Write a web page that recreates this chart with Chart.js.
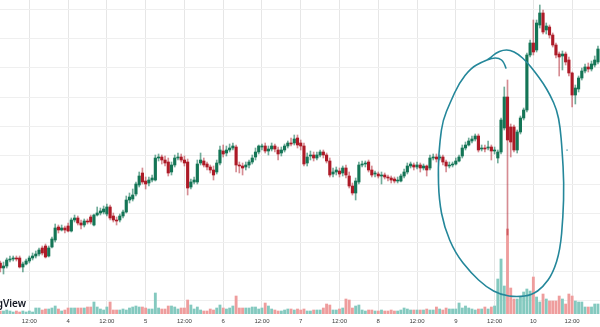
<!DOCTYPE html>
<html>
<head>
<meta charset="utf-8">
<script src="https://cdn.jsdelivr.net/npm/chart.js@4.4.1/dist/chart.umd.min.js"></script>
<style>
  html, body { margin: 0; padding: 0; background: #fff; }
  #wrap { width: 600px; height: 327px; }
</style>
</head>
<body>
<div id="wrap"><canvas id="candles" width="600" height="327"></canvas></div>
<script>
// hourly candles, first one opens day 3 at 03:00
const firstHour = 3

const openPrice = [
  327,322,324,330,331,332,332,323,326,329, 332,334,336,342,344,334,343,350,363,360,
  362,364,359,370,372,367,365,369,373,365, 375,377,378,376,383,374,370,370,374,378,
  390,391,396,405,417,409,407,410,410,432, 433,430,428,418,425,432,433,430,428,403,
  408,408,427,429,426,423,420,418,427,439, 437,440,442,443,425,424,423,425,428,433,
  438,443,444,439,441,444,440,437,440,444, 447,447,452,447,444,427,434,435,432,435,
  438,435,429,416,418,419,417,422,414,404, 397,408,425,426,428,420,416,416,414,415,
  413,412,411,409,409,414,418,424,425,423, 425,422,424,422,432,433,432,433,428,424,
  425,426,429,434,442,445,449,451,454,441, 442,442,443,439,432,438,462,493,463,463,
  440,458,472,480,535,547,540,565,577,560, 563,555,545,536,534,536,530,517,495,501,
  512,519,523,521,525,528
]
const highPrice = [
  329,328,332,334,334,334,334,328,331,334, 337,339,342,344,346,344,353,366,365,365,
  364,367,372,375,374,370,371,371,375,376, 383,382,384,386,385,377,373,376,380,394,
  397,401,408,418,422,413,413,415,435,436, 435,434,432,428,435,437,436,434,431,411,
  413,430,437,432,428,425,424,430,444,445, 444,446,447,445,428,427,428,430,435,442,
  445,446,447,444,447,446,443,443,446,449, 452,455,455,450,447,437,439,438,438,440,
  440,437,432,422,423,422,424,425,418,407, 412,428,429,429,430,424,419,418,418,417,
  415,414,413,413,416,421,427,428,427,428, 427,426,425,435,436,436,435,435,430,428,
  428,432,435,445,448,452,454,456,456,445, 445,449,445,443,440,472,503,510,466,465,
  460,474,482,537,550,570,570,585,580,567, 565,557,547,538,539,538,533,518,505,514,
  522,526,527,529,534,544
]
const lowPrice = [
  318,316,322,328,329,329,322,318,325,327, 330,332,334,335,332,333,342,348,357,359,
  357,358,358,368,365,361,363,366,366,364, 374,375,376,374,370,368,365,368,372,377,
  387,389,394,403,406,401,404,408,409,429, 426,424,414,415,423,430,428,424,395,401,
  406,406,425,423,420,417,410,416,425,433, 434,438,440,418,417,415,420,422,426,430,
  436,440,437,435,439,438,430,434,438,442, 444,445,442,440,424,424,430,429,430,433,
  432,427,413,413,415,413,414,412,402,395, 390,406,423,423,418,413,413,412,406,411,
  409,407,407,407,408,412,416,422,420,421, 418,420,414,420,430,428,430,425,418,422,
  423,425,428,432,440,444,447,449,438,439, 438,440,430,436,427,436,460,355,433,438,
  437,456,470,478,533,535,538,562,556,556, 552,543,532,514,520,525,514,483,486,498,
  510,517,518,519,523,526
]
const closePrice = [
  322,324,330,331,332,331,323,326,329,332, 334,336,340,337,333,342,351,362,360,362,
  360,359,370,372,367,365,369,368,368,375, 377,379,381,383,372,370,369,374,378,390,
  393,395,406,414,408,406,410,412,432,433, 430,427,417,425,432,433,430,427,402,408,
  410,426,430,425,423,420,415,427,440,436, 440,442,444,425,424,422,425,428,432,438,
  444,444,439,441,444,441,436,440,444,447, 446,451,445,444,426,433,435,432,435,438,
  435,429,415,418,420,416,422,415,404,397, 409,425,426,427,420,415,417,414,415,413,
  412,410,409,410,414,418,424,426,423,425, 422,424,420,432,433,431,433,428,424,425,
  426,429,433,442,445,449,451,454,440,442, 441,443,439,440,438,470,493,450,448,440,
  458,472,480,535,547,538,567,577,558,564, 555,545,535,533,536,528,517,495,502,512,
  519,523,521,526,530,541
]
const volume = [
  300,300,400,300,200,300,200,300,200,300, 200,600,600,400,500,500,600,800,500,300,
  400,600,600,600,600,600,600,700,700,1200, 700,500,400,700,1200,400,400,400,500,400,
  600,700,800,700,700,600,500,500,2100,600, 500,500,800,800,700,500,600,600,1400,900,
  500,700,400,300,300,500,400,600,900,600, 500,600,800,1800,600,600,600,600,700,700,
  500,600,1100,800,500,400,300,300,400,500, 500,400,500,400,500,300,300,400,400,400,
  600,1000,900,400,400,500,600,1500,1400,600, 800,900,400,300,400,400,300,300,400,300,
  300,400,300,300,400,600,500,400,400,400, 400,400,500,400,400,700,500,400,600,500,
  500,500,1100,600,800,600,500,400,500,500, 700,500,700,800,3500,5500,2800,8500,2600,1500,
  1500,1700,2200,2500,2300,3700,1700,1200,2000,1500, 1300,1300,1300,1800,1500,1000,2000,1800,1300,1200,
  1200,700,700,700,1000,1000
]

// x axis: a line every 12 hours
const tickHours = [12, 24, 36, 48, 60, 72, 84, 96, 108, 120, 132, 144, 156, 168, 180]
const tickLabels = ['12:00', '4', '12:00', '5', '12:00', '6', '12:00', '7', '12:00', '8', '12:00', '9', '12:00', '10', '12:00']

// hand drawn ring around the spike, in (hour, price)
const ringHours = [159.5, 158.9, 157.4, 155.2, 152.1, 148.7, 145.0, 142.2, 140.0, 139.1, 138.5, 138.8, 140.4, 143.8,
  148.7, 153.4, 158.0, 162.9, 167.6, 171.0, 174.1, 176.3, 177.2, 177.5, 176.9, 176.3, 175.3, 173.2, 171.0,
  168.5, 166.0, 163.3, 160.8, 158.6, 156.4, 154.6, 153.7]
const ringPrices = [522, 528, 532, 532, 528, 522, 507, 487, 470, 450, 423, 390, 363, 337,
  317, 303, 295, 293, 295, 303, 317, 340, 373, 407, 440, 463, 480, 495, 507,
  518, 528, 536, 540, 540, 537, 532, 530]

const upColor = '#147556'
const downColor = '#ad1a27'
const upWick = 'rgba(20,117,86,0.6)'
const downWick = 'rgba(173,26,39,0.5)'
const upVol = '#84c9bf'
const downVol = '#ee9d9d'

const hours = openPrice.map((o, i) => firstHour + i)
const isUp = i => closePrice[i] >= openPrice[i]

const wickData = hours.map((h, i) => ({ x: h, y: [lowPrice[i], highPrice[i]] }))
const bodyData = hours.map((h, i) => ({ x: h, y: [openPrice[i], closePrice[i]] }))
const volData = hours.map((h, i) => ({ x: h, y: volume[i] }))

const ringPlugin = {
  id: 'ring',
  afterDatasetsDraw(chart) {
    const ctx = chart.ctx
    const xs = chart.scales.x
    const ys = chart.scales.y
    const pts = ringHours.map((h, i) => [xs.getPixelForValue(h), ys.getPixelForValue(ringPrices[i])])
    ctx.save()
    ctx.strokeStyle = '#24879a'
    ctx.lineWidth = 1.6
    ctx.lineJoin = 'round'
    ctx.lineCap = 'round'
    ctx.beginPath()
    ctx.moveTo(pts[0][0], pts[0][1])
    for (let i = 1; i < pts.length - 1; i++) {
      const mx = (pts[i][0] + pts[i + 1][0]) / 2
      const my = (pts[i][1] + pts[i + 1][1]) / 2
      ctx.quadraticCurveTo(pts[i][0], pts[i][1], mx, my)
    }
    ctx.lineTo(pts[pts.length - 1][0], pts[pts.length - 1][1])
    ctx.stroke()
    // stray pen dot
    ctx.fillStyle = '#24879a'
    ctx.fillRect(xs.getPixelForValue(178.4) - 0.5, ys.getPixelForValue(440) - 0.5, 1.2, 1.2)
    ctx.restore()
  },
  afterDraw(chart) {
    const ctx = chart.ctx
    ctx.save()
    ctx.fillStyle = '#131722'
    ctx.font = '600 10px "Noto Sans", "Liberation Sans", sans-serif'
    ctx.textAlign = 'right'
    ctx.textBaseline = 'alphabetic'
    ctx.fillText('TradingView', 26, 307)
    ctx.restore()
  }
}

new Chart(document.getElementById('candles'), {
  type: 'bar',
  data: {
    datasets: [
      {
        label: 'body',
        data: bodyData,
        order: 1,
        grouped: false,
        barThickness: 2.5,
        minBarLength: 1,
        backgroundColor: c => isUp(c.dataIndex) ? upColor : downColor
      },
      {
        label: 'wick',
        data: wickData,
        order: 2,
        grouped: false,
        barThickness: 1,
        backgroundColor: c => isUp(c.dataIndex) ? upWick : downWick
      },
      {
        label: 'volume',
        data: volData,
        yAxisID: 'vol',
        order: 3,
        grouped: false,
        barThickness: 2.2,
        backgroundColor: c => isUp(c.dataIndex) ? upVol : downVol
      }
    ]
  },
  options: {
    responsive: false,
    animation: false,
    layout: { padding: 0 },
    plugins: { legend: { display: false }, tooltip: { enabled: false } },
    scales: {
      x: {
        type: 'linear',
        min: 2.92,
        max: 188.63,
        offset: false,
        border: { display: false },
        grid: { color: '#e6e6e6', drawTicks: false, offset: false },
        ticks: {
          autoSkip: false,
          maxRotation: 0,
          padding: 4,
          color: '#3c3c3c',
          font: { size: 6, family: '"Liberation Sans", Arial, sans-serif' },
          callback: (v, i) => tickLabels[i]
        },
        afterBuildTicks: s => { s.ticks = tickHours.map(v => ({ value: v })) },
        afterFit: s => { s.height = 13 }
      },
      y: {
        position: 'right',
        min: 276,
        max: 590,
        border: { display: false },
        grid: { color: '#efefef', drawTicks: false },
        ticks: { display: false, stepSize: 29, includeBounds: false },
        afterFit: s => { s.width = 0 }
      },
      vol: {
        display: false,
        min: 0,
        max: 31400
      }
    }
  },
  plugins: [ringPlugin]
})
</script>
</body>
</html>
